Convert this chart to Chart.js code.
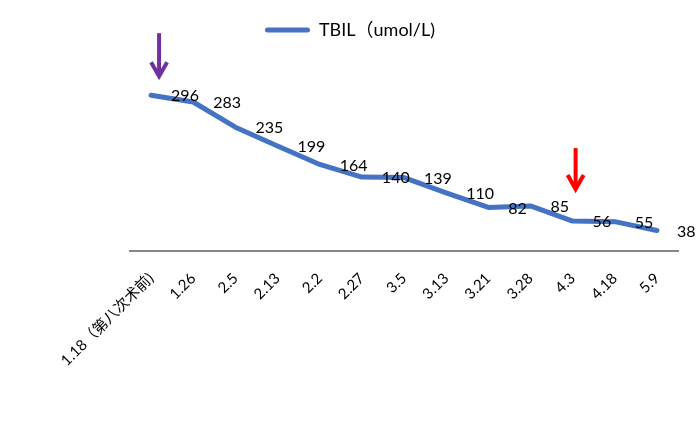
<!DOCTYPE html>
<html>
<head>
<meta charset="utf-8">
<script src="https://cdn.jsdelivr.net/npm/chart.js@4.4.1/dist/chart.umd.min.js"></script>
<style>
  html, body { margin: 0; padding: 0; background: #ffffff; }
  #wrap { width: 700px; height: 421px; position: relative; }
</style>
</head>
<body>
<div id="wrap"><canvas id="c" width="700" height="421"></canvas></div>
<script>
// ---- data ----
const categories = ['1.18（第八次术前)', '1.26', '2.5', '2.13', '2.2', '2.27', '3.5', '3.13', '3.21', '3.28', '4.3', '4.18', '5.9'];
const tbilValues = [296, 283, 235, 199, 164, 140, 139, 110, 82, 85, 56, 55, 38];
const seriesName = 'TBIL（umol/L)';
const yMin = 0;
const yMax = 384;

// ---- style ----
const lineColor = '#4472C4';
const latinCjk = "Lato, 'Noto Sans CJK SC', sans-serif";
const arrowMarks = [
  { index: 0, color: '#7030A0', dx: 8, gap: 18, length: 44 },
  { index: 10, color: '#FF0000', dx: 3, gap: 31, length: 42 }
];

const valueLabelPlugin = {
  id: 'valueLabels',
  afterDatasetsDraw(chart) {
    const ctx = chart.ctx;
    const meta = chart.getDatasetMeta(0);
    ctx.save();
    ctx.font = '16px ' + latinCjk;
    ctx.fillStyle = '#000000';
    ctx.textAlign = 'left';
    ctx.textBaseline = 'middle';
    meta.data.forEach((pt, i) => {
      ctx.fillText(String(chart.data.datasets[0].data[i]), pt.x + 20, pt.y + 1);
    });
    ctx.restore();
  }
};

const arrowPlugin = {
  id: 'arrows',
  afterDatasetsDraw(chart) {
    const ctx = chart.ctx;
    const meta = chart.getDatasetMeta(0);
    ctx.save();
    arrowMarks.forEach(a => {
      const pt = meta.data[a.index];
      const x = pt.x + a.dx;
      const tip = pt.y - a.gap;
      const top = tip - a.length;
      ctx.strokeStyle = a.color;
      ctx.lineWidth = 4;
      ctx.lineCap = 'butt';
      ctx.lineJoin = 'miter';
      ctx.beginPath();
      ctx.moveTo(x, top);
      ctx.lineTo(x, tip - 2);
      ctx.stroke();
      ctx.beginPath();
      ctx.moveTo(x - 8, tip - 15);
      ctx.lineTo(x, tip - 1);
      ctx.lineTo(x + 8, tip - 15);
      ctx.stroke();
    });
    ctx.restore();
  }
};

new Chart(document.getElementById('c'), {
  type: 'line',
  data: {
    labels: categories,
    datasets: [{
      label: seriesName,
      data: tbilValues,
      borderColor: lineColor,
      backgroundColor: lineColor,
      borderWidth: 5,
      pointRadius: 0,
      tension: 0,
      borderCapStyle: 'round',
      borderJoinStyle: 'round',
      clip: false
    }]
  },
  options: {
    responsive: false,
    animation: false,
    devicePixelRatio: 1,
    layout: { padding: { top: 11, left: 0, right: 0, bottom: 0 } },
    plugins: {
      tooltip: { enabled: false },
      legend: {
        position: 'top',
        align: 'center',
        labels: {
          boxWidth: 45,
          boxHeight: 5,
          useBorderRadius: true,
          borderRadius: 2.5,
          color: '#000000',
          font: { family: latinCjk, size: 18 },
          padding: 10,
          generateLabels: (chart) => [{
            text: seriesName,
            fillStyle: lineColor,
            strokeStyle: lineColor,
            lineWidth: 0,
            hidden: false,
            datasetIndex: 0,
            borderRadius: 2.5
          }]
        }
      }
    },
    scales: {
      x: {
        type: 'category',
        offset: true,
        grid: { display: false, drawTicks: false },
        border: { display: true, color: '#878787', width: 2 },
        ticks: {
          autoSkip: false,
          minRotation: 45,
          maxRotation: 45,
          padding: 19,
          color: '#000000',
          font: { family: latinCjk, size: 15 }
        },
        afterFit: (s) => { s.height = 170.5; }
      },
      y: {
        display: true,
        position: 'left',
        min: yMin,
        max: yMax,
        grid: { display: false, drawTicks: false },
        border: { display: false },
        ticks: { display: false },
        afterFit: (s) => { s.width = 130; }
      },
      yRight: {
        display: true,
        position: 'right',
        min: yMin,
        max: yMax,
        grid: { display: false, drawTicks: false },
        border: { display: false },
        ticks: { display: false },
        afterFit: (s) => { s.width = 22; }
      }
    }
  },
  plugins: [valueLabelPlugin, arrowPlugin]
});
</script>
</body>
</html>
